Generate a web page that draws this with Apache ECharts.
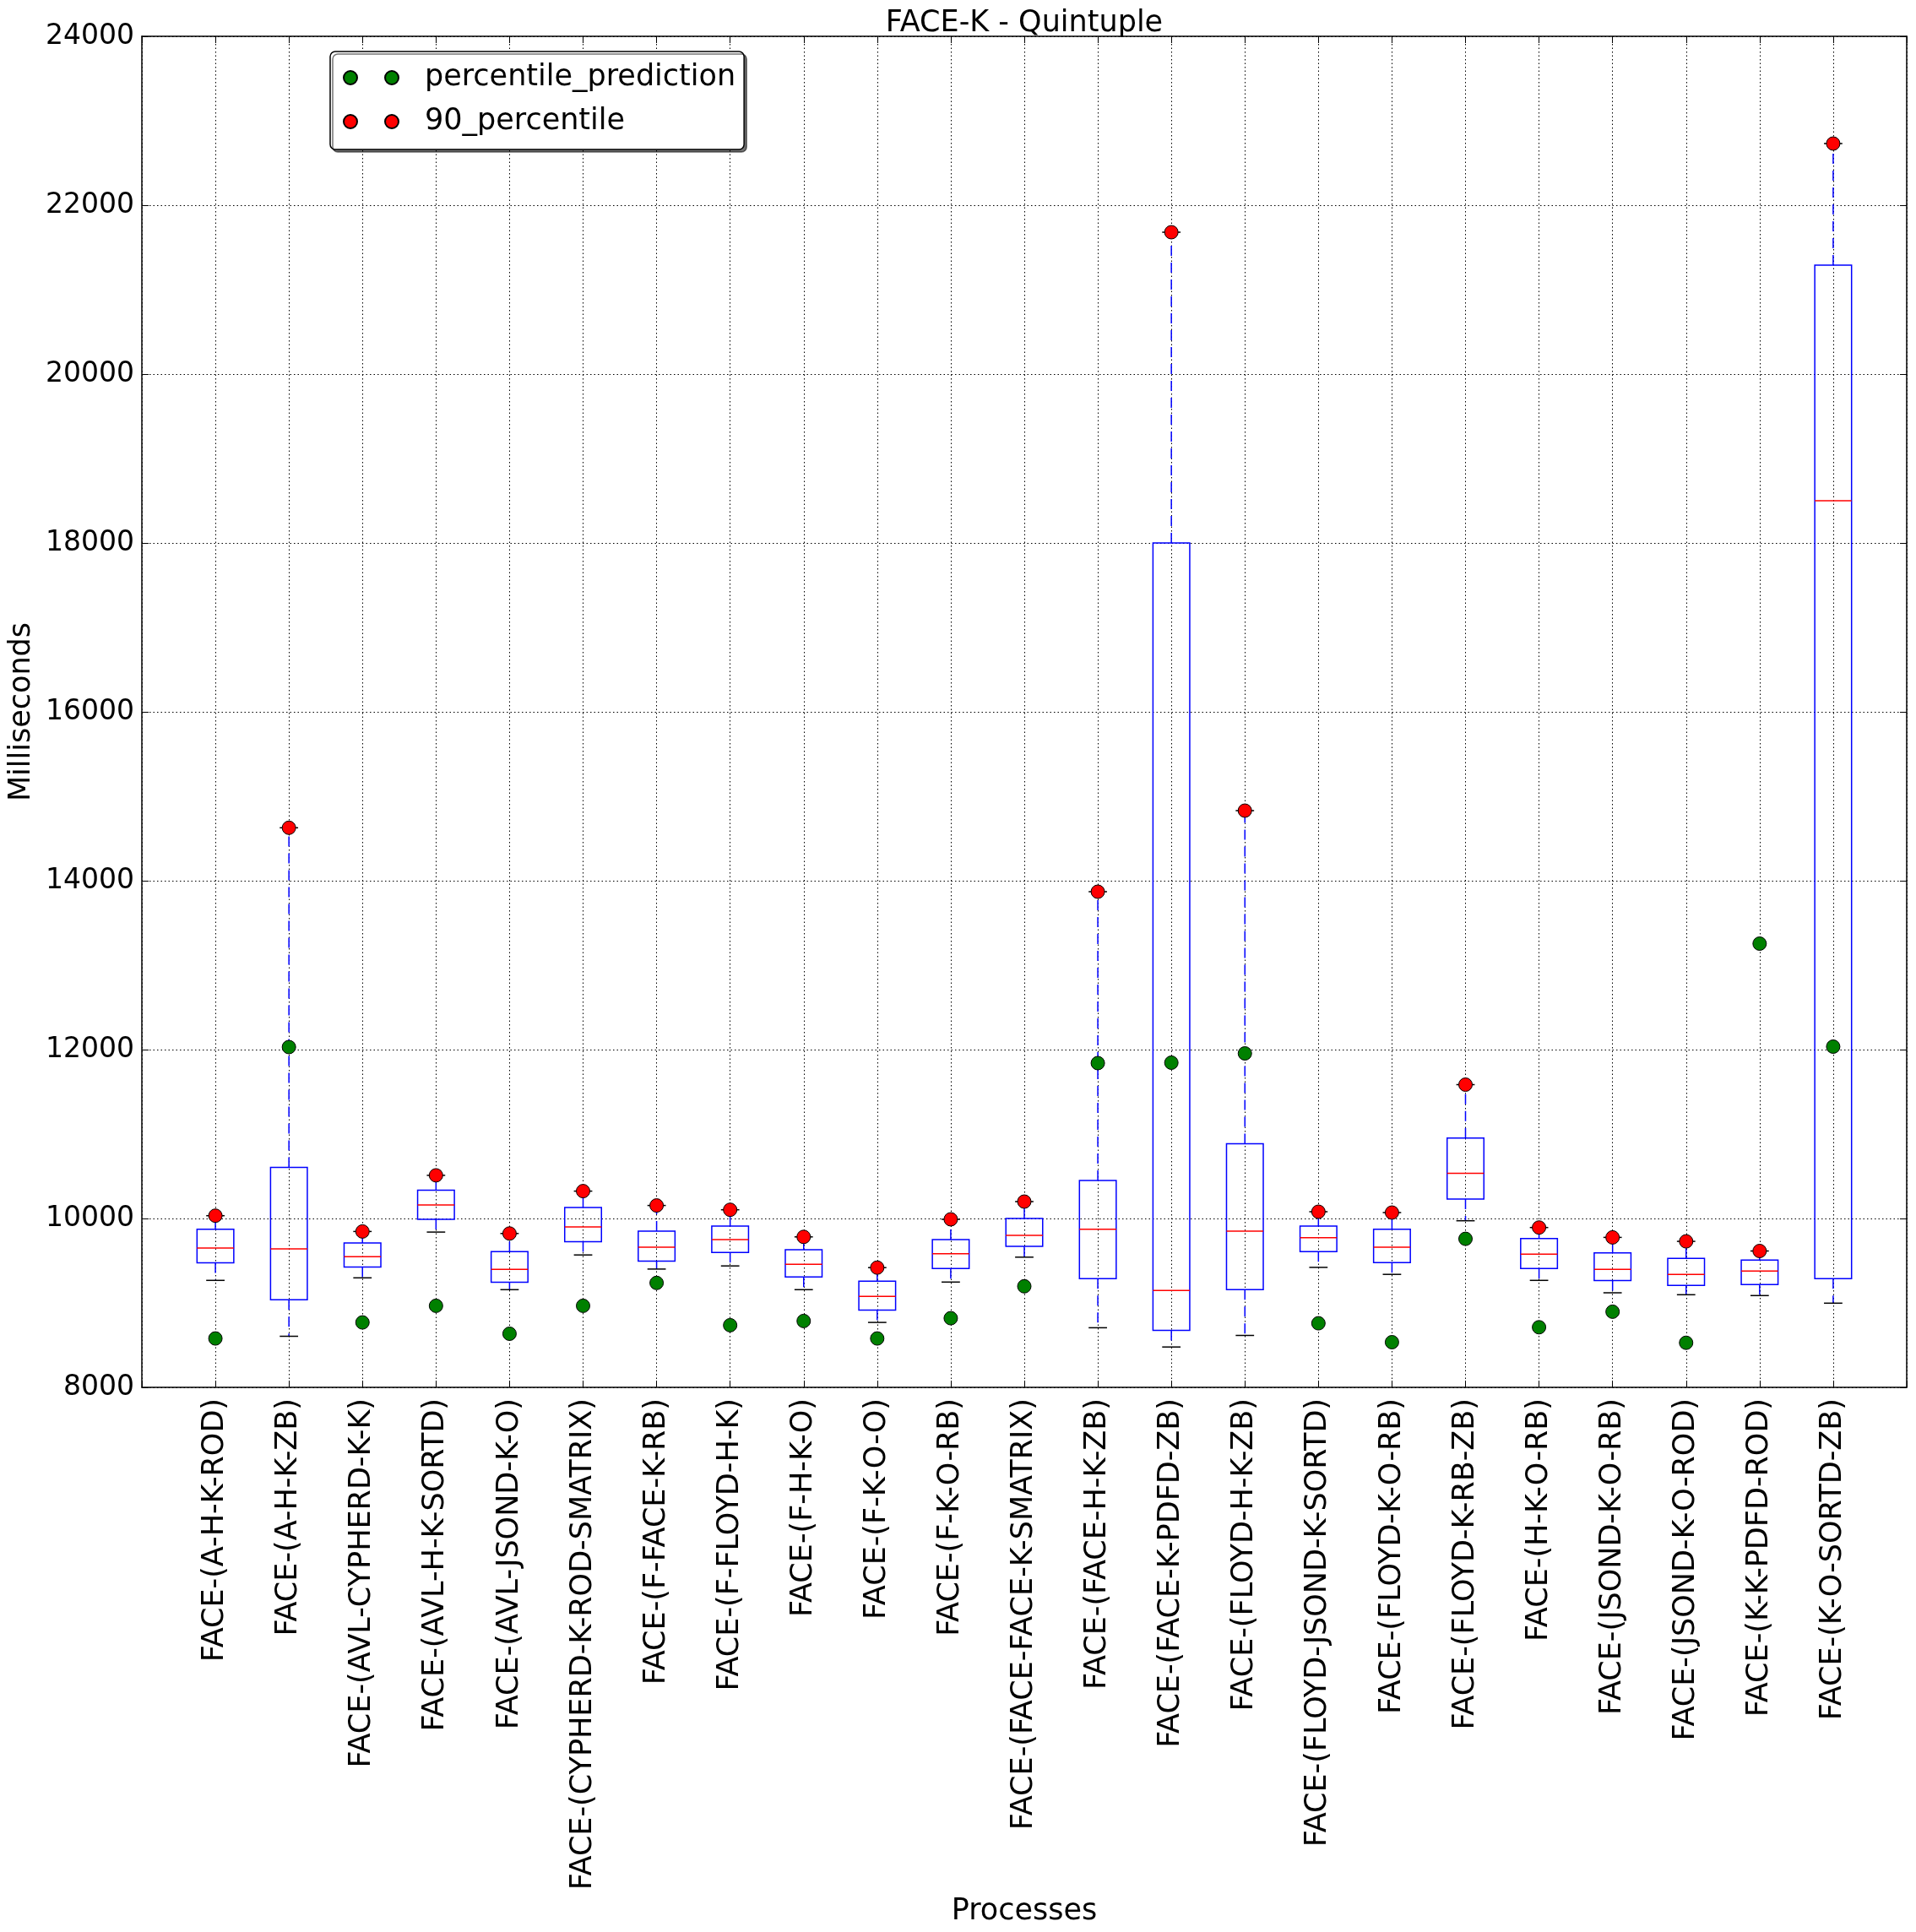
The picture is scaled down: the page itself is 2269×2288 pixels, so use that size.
<!DOCTYPE html>
<html>
<head>
<meta charset="utf-8">
<script src="https://cdn.jsdelivr.net/npm/echarts@6/dist/echarts.min.js"></script>
<style>
html,body{margin:0;padding:0;background:#fff;}
#chart{width:2269px;height:2288px;}
</style>
</head>
<body>
<div id="chart"></div>
<script>
const categories = [
  "FACE-(A-H-K-ROD)",
  "FACE-(A-H-K-ZB)",
  "FACE-(AVL-CYPHERD-K-K)",
  "FACE-(AVL-H-K-SORTD)",
  "FACE-(AVL-JSOND-K-O)",
  "FACE-(CYPHERD-K-ROD-SMATRIX)",
  "FACE-(F-FACE-K-RB)",
  "FACE-(F-FLOYD-H-K)",
  "FACE-(F-H-K-O)",
  "FACE-(F-K-O-O)",
  "FACE-(F-K-O-RB)",
  "FACE-(FACE-FACE-K-SMATRIX)",
  "FACE-(FACE-H-K-ZB)",
  "FACE-(FACE-K-PDFD-ZB)",
  "FACE-(FLOYD-H-K-ZB)",
  "FACE-(FLOYD-JSOND-K-SORTD)",
  "FACE-(FLOYD-K-O-RB)",
  "FACE-(FLOYD-K-RB-ZB)",
  "FACE-(H-K-O-RB)",
  "FACE-(JSOND-K-O-RB)",
  "FACE-(JSOND-K-O-ROD)",
  "FACE-(K-K-PDFD-ROD)",
  "FACE-(K-O-SORTD-ZB)"
];
const whiskerLow = [9267, 8605, 9297, 9839, 9157, 9568, 9401, 9438, 9157, 8769, 9247, 9542, 8706, 8478, 8615, 9421, 9338, 9973, 9267, 9120, 9097, 9087, 8997];
const q1 = [9475, 9037, 9425, 9990, 9244, 9725, 9495, 9598, 9307, 8916, 9408, 9669, 9287, 8675, 9157, 9608, 9478, 10230, 9408, 9264, 9207, 9217, 9287];
const median = [9649, 9639, 9548, 10160, 9398, 9899, 9659, 9749, 9458, 9077, 9582, 9799, 9873, 9147, 9849, 9772, 9659, 10535, 9578, 9398, 9338, 9378, 18500];
const q3 = [9873, 10605, 9709, 10334, 9608, 10130, 9849, 9909, 9629, 9257, 9749, 10000, 10451, 18000, 10886, 9909, 9873, 10953, 9762, 9592, 9528, 9508, 21290];
const whiskerHigh = [10033, 14627, 9846, 10511, 9822, 10324, 10154, 10103, 9782, 9418, 9990, 10200, 13870, 21680, 14830, 10080, 10070, 11585, 9893, 9776, 9729, 9615, 22730];
const percentile90 = [10033, 14627, 9846, 10511, 9822, 10324, 10154, 10103, 9782, 9418, 9990, 10200, 13870, 21680, 14830, 10080, 10070, 11585, 9893, 9776, 9729, 9615, 22730];
const percentilePrediction = [8579, 12030, 8769, 8966, 8635, 8966, 9237, 8736, 8786, 8579, 8819, 9197, 11840, 11845, 11955, 8759, 8535, 9759, 8712, 8896, 8528, 13255, 12035];
const yTicks = {min: 8000, max: 24000, step: 2000};

const FONT = "'DejaVu Sans', 'Noto Sans', sans-serif";
const boxData = categories.map((c, i) => [i + 1, whiskerLow[i], q1[i], median[i], q3[i], whiskerHigh[i]]);
const predData = categories.map((c, i) => [i + 1, percentilePrediction[i]]);
const p90Data = categories.map((c, i) => [i + 1, percentile90[i]]);

function renderBox(params, api) {
  const x = api.value(0);
  const pLow = api.coord([x, api.value(1)]);
  const pQ1 = api.coord([x, api.value(2)]);
  const pMed = api.coord([x, api.value(3)]);
  const pQ3 = api.coord([x, api.value(4)]);
  const pHigh = api.coord([x, api.value(5)]);
  const halfW = api.size([0.25, 0])[0];
  const capHalf = api.size([0.125, 0])[0];
  const cx = pMed[0];
  const dash = {stroke: '#0000ff', lineWidth: 1.5, lineDash: [12, 8]};
  return {
    type: 'group',
    children: [
      {type: 'line', shape: {x1: cx, y1: pQ3[1], x2: cx, y2: pHigh[1]}, style: dash},
      {type: 'line', shape: {x1: cx, y1: pQ1[1], x2: cx, y2: pLow[1]}, style: dash},
      {type: 'line', shape: {x1: cx - capHalf, y1: pHigh[1], x2: cx + capHalf, y2: pHigh[1]}, style: {stroke: '#000', lineWidth: 1.5}},
      {type: 'line', shape: {x1: cx - capHalf, y1: pLow[1], x2: cx + capHalf, y2: pLow[1]}, style: {stroke: '#000', lineWidth: 1.5}},
      {type: 'rect', shape: {x: cx - halfW, y: pQ3[1], width: 2 * halfW, height: pQ1[1] - pQ3[1]}, style: {fill: 'none', stroke: '#0000ff', lineWidth: 1.5}},
      {type: 'line', shape: {x1: cx - halfW, y1: pMed[1], x2: cx + halfW, y2: pMed[1]}, style: {stroke: '#ff0000', lineWidth: 1.5}}
    ]
  };
}

const legendIcon = 'path://M0,8a8,8 0 1,0 16,0a8,8 0 1,0 -16,0z M49,8a8,8 0 1,0 16,0a8,8 0 1,0 -16,0z';

const chart = echarts.init(document.getElementById('chart'), null, {renderer: 'canvas'});
const gridSplit = {show: true, lineStyle: {color: '#000', width: 1, type: [1.5, 3]}};
const axisLineStyle = {show: true, onZero: false, lineStyle: {color: '#000', width: 1.5}};
chart.setOption({
  animation: false,
  backgroundColor: '#fff',
  textStyle: {fontFamily: FONT},
  title: {
    text: 'FACE-K - Quintuple',
    left: 1213,
    textAlign: 'center',
    top: 10,
    padding: 0,
    textStyle: {fontFamily: FONT, fontSize: 35, fontWeight: 'normal', color: '#000'}
  },
  legend: {
    data: ['percentile_prediction', '90_percentile'],
    orient: 'vertical',
    left: 391,
    top: 61,
    icon: legendIcon,
    itemWidth: 65,
    itemHeight: 16,
    itemGap: 12,
    padding: [11, 10, 13, 15],
    backgroundColor: '#fff',
    borderColor: '#000',
    borderWidth: 1.5,
    borderRadius: 6,
    shadowColor: 'rgba(0,0,0,0.55)',
    shadowOffsetX: 3,
    shadowOffsetY: 3,
    shadowBlur: 0,
    textStyle: {fontFamily: FONT, fontSize: 35, color: '#000', lineHeight: 40, padding: [0, 0, 0, 26]}
  },
  grid: {left: 168, right: 11, top: 43, bottom: 645, containLabel: false, outerBoundsMode: 'none'},
  xAxis: [
    {
      type: 'value', min: 0, max: categories.length + 1, interval: 1, position: 'bottom',
      axisLine: axisLineStyle,
      axisTick: {show: true, inside: true, length: 8, lineStyle: {color: '#000'}},
      axisLabel: {
        rotate: 90, margin: 13, fontSize: 35, fontFamily: FONT, color: '#000',
        showMinLabel: true, showMaxLabel: true,
        formatter: v => categories[v - 1] || ''
      },
      splitLine: gridSplit,
      name: 'Processes', nameLocation: 'middle', nameGap: 602,
      nameTextStyle: {fontFamily: FONT, fontSize: 35, color: '#000'}
    },
    {
      type: 'value', min: 0, max: categories.length + 1, interval: 1, position: 'top',
      axisLine: axisLineStyle,
      axisTick: {show: true, inside: true, length: 8, lineStyle: {color: '#000'}},
      axisLabel: {show: false}, splitLine: {show: false}
    }
  ],
  yAxis: [
    {
      type: 'value', min: yTicks.min, max: yTicks.max, interval: yTicks.step, position: 'left',
      axisLine: axisLineStyle,
      axisTick: {show: true, inside: true, length: 8, lineStyle: {color: '#000'}},
      axisLabel: {fontSize: 33, fontFamily: FONT, color: '#000', margin: 9, formatter: v => String(v)},
      splitLine: gridSplit,
      name: 'Milliseconds', nameLocation: 'middle', nameGap: 105, nameRotate: 90,
      nameTextStyle: {fontFamily: FONT, fontSize: 35, color: '#000'}
    },
    {
      type: 'value', min: yTicks.min, max: yTicks.max, interval: yTicks.step, position: 'right',
      axisLine: axisLineStyle,
      axisTick: {show: true, inside: true, length: 8, lineStyle: {color: '#000'}},
      axisLabel: {show: false}, splitLine: {show: false}
    }
  ],
  series: [
    {
      type: 'custom', name: 'box', xAxisIndex: 0, yAxisIndex: 0,
      renderItem: renderBox, data: boxData, z: 3,
      encode: {x: 0, y: [1, 2, 3, 4, 5]}
    },
    {
      type: 'scatter', name: 'percentile_prediction', xAxisIndex: 0, yAxisIndex: 0,
      data: predData, symbol: 'circle', symbolSize: 16, z: 5,
      itemStyle: {color: '#008000', borderColor: '#000', borderWidth: 1, opacity: 1}
    },
    {
      type: 'scatter', name: '90_percentile', xAxisIndex: 0, yAxisIndex: 0,
      data: p90Data, symbol: 'circle', symbolSize: 16, z: 5,
      itemStyle: {color: '#ff0000', borderColor: '#000', borderWidth: 1, opacity: 1}
    }
  ]
});
</script>
</body>
</html>
